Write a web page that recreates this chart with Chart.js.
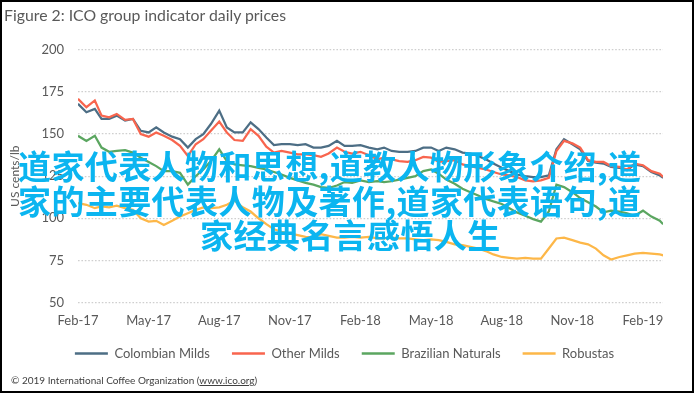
<!DOCTYPE html>
<html><head><meta charset="utf-8">
<script src="https://cdn.jsdelivr.net/npm/chart.js@4.4.1/dist/chart.umd.min.js"></script>
<style>
html,body{margin:0;padding:0;background:#fff;}
#wrap{position:relative;width:695px;height:394px;overflow:hidden;font-family:Lato,sans-serif;background:#fff;}
canvas{position:absolute;left:0;top:0;}
#frame{position:absolute;left:0;top:0;width:694px;height:393px;box-sizing:border-box;border:2px solid #000;pointer-events:none;}
#title{position:absolute;left:4px;top:5px;font-size:15.8px;color:#595959;white-space:nowrap;}
#footer{position:absolute;left:11px;top:374px;font-size:10px;color:#404040;white-space:nowrap;}
#footer u{text-decoration:underline;}
.wm{position:absolute;font-family:"Noto Sans CJK SC";font-weight:700;font-size:33px;line-height:33px;letter-spacing:0.4px;color:#0BB5F0;white-space:nowrap;}
</style></head>
<body>
<div id="wrap">
<canvas id="c" width="695" height="394"></canvas>
<div id="title">Figure 2: ICO group indicator daily prices</div>
<div id="footer">© 2019 International Coffee Organization (<u>www.ico.org</u>)</div>
<div class="wm" style="left:18px;top:149px;">道家代表人物和思想,道教人物形象介绍,道</div>
<div class="wm" style="left:18px;top:184px;">家的主要代表人物及著作,道家代表语句,道</div>
<div class="wm" style="left:200px;top:218px;">家经典名言感悟人生</div>
<div id="frame"></div>
</div>
<script>
const dates = [
 '2017-02-01','2017-02-11','2017-02-21','2017-03-01','2017-03-11','2017-03-21',
 '2017-04-01','2017-04-11','2017-04-21','2017-05-01','2017-05-11','2017-05-21',
 '2017-06-01','2017-06-11','2017-06-21','2017-07-01','2017-07-11','2017-07-21',
 '2017-08-01','2017-08-11','2017-08-21','2017-09-01','2017-09-11','2017-09-21',
 '2017-10-01','2017-10-11','2017-10-21','2017-11-01','2017-11-11','2017-11-21',
 '2017-12-01','2017-12-11','2017-12-21','2018-01-01','2018-01-11','2018-01-21',
 '2018-02-01','2018-02-11','2018-02-21','2018-03-01','2018-03-11','2018-03-21',
 '2018-04-01','2018-04-11','2018-04-21','2018-05-01','2018-05-11','2018-05-21',
 '2018-06-01','2018-06-11','2018-06-21','2018-07-01','2018-07-11','2018-07-21',
 '2018-08-01','2018-08-11','2018-08-21','2018-09-01','2018-09-11','2018-09-21',
 '2018-10-01','2018-10-11','2018-10-21','2018-11-01','2018-11-11','2018-11-21',
 '2018-12-01','2018-12-11','2018-12-21','2019-01-01','2019-01-11','2019-01-21',
 '2019-02-01','2019-02-11','2019-02-21','2019-02-25'
];
const colombianMilds = [
 168,163,165, 159,159,161, 158,159,152, 151,154,151, 148.5,147,142, 147,150,156,
 164,154,151, 151,157,153, 148,143.5,144, 144,143.5,144, 142,142,143, 146,143,143,
 143.5,142,141, 142,140,139.5, 139.5,140,142, 142,140,142, 141,139,138.5, 137,135,132.5,
 130,128,126, 125,124.5,124.5, 125.5,141,147, 144,141,134, 133,132.5,130.5, 130,128.5,132,
 131,127.5,125.5, 124
];
const otherMilds = [
 171,166,170, 161,160,162, 158.5,159,150, 148.5,151,149, 146.5,143,137, 144,147,152,
 157.5,151,146.5, 146,153,149, 142.5,139,140, 139,138,138, 137.5,136.5,138.5, 142,139.5,138.5,
 139.5,137.5,135, 136,135,134, 133.5,134.5,136.5, 136,133.5,134, 134.5,132,131, 130,129,127.5,
 126,125.5,124.5, 122.5,122,122.5, 124,140,146, 144.5,142,134.5, 133.5,133.5,131, 130.5,129,132.5,
 131.5,128,126.5, 124.5
];
const brazilianNaturals = [
 149,146,149, 142,139.5,140, 140.5,139,136, 133.5,131,128, 128,127,120, 125,129,134,
 141,134,132, 131.5,131,130, 129,127.5,126, 124,122.5,121, 120,118.5,118, 119.5,121.5,121,
 122.5,121.5,122, 121.5,122,123, 124,125,128, 129,126.5,123, 120.5,117.5,115.5, 113.5,111.5,110,
 108.5,106,103.5, 101.5,99.5,98, 104,120,118.5, 115.5,112,109.5, 107,103.5,104.5, 104,103,101.5,
 104.5,101,98.5, 96.5
];
const robustas = [
 109,108,106, 107,106.5,107.5, 106,105,100, 98,98.5,96, 98.5,101,103, 105,106.5,106,
 106.5,108,110.5, 106.5,104,100, 96.5,93.5,92, 91,90,89, 88.5,90.5,89.5, 88.5,88.5,89,
 88.5,89,88, 88,88.5,88, 88,87.5,87, 87.5,87,86, 84.5,84,83, 82,80.5,78.5,
 77,76.5,76, 76.5,76,76, 82,88,88.5, 87,85.5,84.5, 82,78,75.5, 77,78,79,
 79.5,79,78.5, 78
];
const seriesNames = ['Colombian Milds','Other Milds','Brazilian Naturals','Robustas'];
const seriesColors = ['#4D6E85','#F8654E','#5BA660','#FDB748'];
const tickLabels = ['Feb-17','May-17','Aug-17','Nov-17','Feb-18','May-18','Aug-18','Nov-18','Feb-19'];
const tickMonths = [0,3,6,9,12,15,18,21,24];

function monthPos(s){
  const [y,m,d] = s.split('-').map(Number);
  const dim = new Date(y, m, 0).getDate();
  return (y-2017)*12 + (m-2) + (d-1)/dim;
}
const xs = dates.map(monthPos);
const allValues = [colombianMilds, otherMilds, brazilianNaturals, robustas];
const datasets = allValues.map((vals,i)=>({
  label: seriesNames[i],
  data: vals.map((v,k)=>({x: xs[k], y: v})),
  borderColor: seriesColors[i],
  backgroundColor: seriesColors[i],
  borderWidth: 2.25,
  pointRadius: 0,
  tension: 0,
  order: 4 - i
}));

const legendLift = {
  id: 'legendLift',
  afterLayout(chart) {
    const l = chart.legend;
    if (l) { l.top -= 15; l.bottom -= 15; }
  }
};

const grey = '#595959';
new Chart(document.getElementById('c'), {
  type: 'line',
  data: { datasets },
  plugins: [legendLift],
  options: {
    responsive: false, animation: false, devicePixelRatio: 1,
    layout: { padding: { left: 26, right: 32, top: 50, bottom: 9 } },
    scales: {
      x: {
        type: 'linear', min: 0, max: 24.85,
        afterBuildTicks: s => { s.ticks = tickMonths.map(v => ({ value: v })); },
        ticks: { autoSkip: false, maxRotation: 0, padding: 11, color: grey,
                 font: { family: 'Lato', size: 13 },
                 callback: (v, i) => tickLabels[i] },
        grid: { display: false, drawTicks: false },
        border: { display: false }
      },
      y: {
        min: 50, max: 200,
        afterFit: s => { s.width = 52; },
        ticks: { stepSize: 25, padding: 14, color: grey, font: { family: 'Lato', size: 13 } },
        grid: { color: '#CFCFCF', lineWidth: 1.3, drawTicks: false },
        border: { display: false, dash: [1.6, 1.8] },
        title: { display: true, text: 'US cents/lb', color: grey,
                 font: { family: 'Lato', size: 12 }, padding: { top: -18, bottom: 0 } }
      }
    },
    plugins: {
      legend: {
        position: 'bottom', reverse: true,
        labels: {
          boxWidth: 33, boxHeight: 2.5, padding: 22, color: grey,
          font: { family: 'Lato', size: 13 },
          generateLabels: chart => {
            const items = Chart.defaults.plugins.legend.labels.generateLabels(chart);
            items.forEach(it => { it.lineWidth = 0; it.fillStyle = it.strokeStyle; });
            return items;
          }
        }
      },
      tooltip: { enabled: false },
      title: { display: false }
    }
  }
});
</script>
</body></html>
